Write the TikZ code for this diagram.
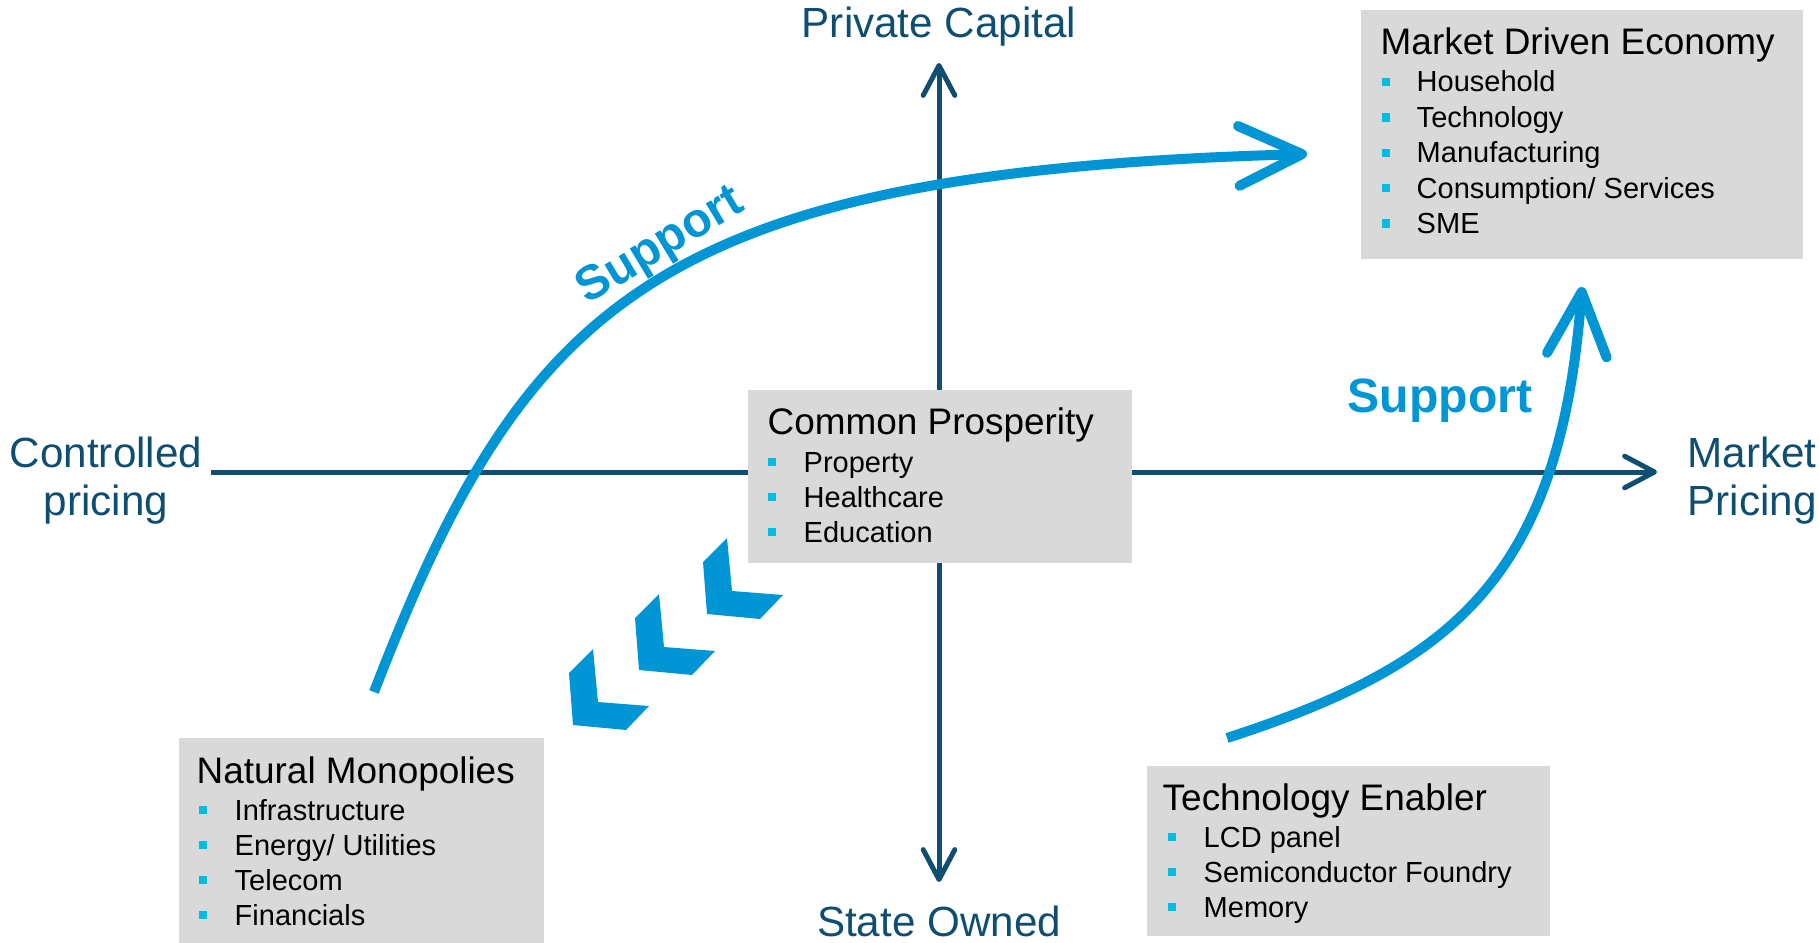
\documentclass[tikz,border=0pt]{standalone}
\usepackage{fontspec}
\setmainfont{Liberation Sans}
\usetikzlibrary{arrows.meta}

\definecolor{axisblue}{RGB}{14,78,112}
\definecolor{arrowblue}{RGB}{0,150,214}
\definecolor{bulcyan}{RGB}{0,190,225}
\definecolor{boxgray}{RGB}{217,217,217}

\tikzset{
  axisline/.style={draw=axisblue, line width=0.05cm},
  axistip/.tip={Straight Barb[round, length=8.5pt, width=9pt]},
  bluecurve/.style={draw=arrowblue, line width=0.1cm,
    -{Straight Barb[round, length=18pt, width=17pt]}},
  axislabel/.style={anchor=base, inner sep=0pt, text=axisblue,
    font=\fontsize{12}{14}\selectfont},
  supportlabel/.style={inner sep=0pt, text=arrowblue,
    font=\fontsize{13.7}{16}\selectfont\bfseries},
  graybox/.style={fill=boxgray, anchor=north west, inner sep=0pt},
  boxtitle/.style={anchor=base west, inner sep=0pt,
    font=\fontsize{10.5}{12}\selectfont},
  item/.style={anchor=base west, inner sep=0pt,
    font=\fontsize{8.25}{10}\selectfont},
  bul/.style={fill=bulcyan, minimum size=0.085cm, inner sep=0pt},
}

\begin{document}
\begin{tikzpicture}[x=0.01cm, y=-0.01cm]
\useasboundingbox (0,0) rectangle (1819,943);

% axes
\coordinate (xl) at (211,472);
\coordinate (xr) at (1657,472);
\coordinate (yt) at (939,63);
\coordinate (yb) at (939,882);
\draw[axisline, -axistip] (xl) -- (xr);
\draw[axisline, axistip-axistip] (yt) -- (yb);

% axis labels
\node[axislabel] (privcap) at (939,38) {Private Capital};
\node[axislabel] (stateown) at (939,936) {State Owned};
\node[axislabel] (ctrl1) at (106,467) {Controlled};
\node[axislabel] (ctrl2) at (106,515) {pricing};
\node[axislabel] (mkt1) at (1752,467) {Market};
\node[axislabel] (mkt2) at (1752,515) {Pricing};

% Market Driven Economy
\node[graybox, minimum width=4.42cm, minimum height=2.49cm] (mde) at (1360,9) {};
\node[boxtitle] (mde-t) at (1380,55) {Market Driven Economy};
\foreach \t [count=\i from 0] in {Household, Technology, Manufacturing, Consumption/ Services, SME} {
  \node[bul] (mde-b\i) at (1386,{82+35.4*\i}) {};
  \node[item] (mde-\i) at (1416,{92+35.4*\i}) {\t};
}

% Common Prosperity
\node[graybox, minimum width=3.84cm, minimum height=1.73cm] (cp) at (747,389) {};
\node[boxtitle] (cp-t) at (767,434) {Common Prosperity};
\foreach \t [count=\i from 0] in {Property, Healthcare, Education} {
  \node[bul] (cp-b\i) at (772,{462+35*\i}) {};
  \node[item] (cp-\i) at (803,{472+35*\i}) {\t};
}

% Natural Monopolies
\node[graybox, minimum width=3.65cm, minimum height=2.07cm] (nm) at (178,737) {};
\node[boxtitle] (nm-t) at (196,783) {Natural Monopolies};
\foreach \t [count=\i from 0] in {Infrastructure, Energy/ Utilities, Telecom, Financials} {
  \node[bul] (nm-b\i) at (203,{810+35*\i}) {};
  \node[item] (nm-\i) at (234,{820+35*\i}) {\t};
}

% Technology Enabler
\node[graybox, minimum width=4.03cm, minimum height=1.70cm] (te) at (1146,765) {};
\node[boxtitle] (te-t) at (1162,810) {Technology Enabler};
\foreach \t [count=\i from 0] in {LCD panel, Semiconductor Foundry, Memory} {
  \node[bul] (te-b\i) at (1172,{837+35*\i}) {};
  \node[item] (te-\i) at (1203,{847+35*\i}) {\t};
}

% support arrows
\coordinate (s1a) at (374,692);
\coordinate (s1b) at (1307,154);
\draw[bluecurve] (s1a) .. controls (525,301) and (657,172) .. (s1b);
\coordinate (s2a) at (1227,738);
\coordinate (s2b) at (1582,287);
\draw[bluecurve] (s2a) .. controls (1455,664) and (1560,576) .. (s2b);

\node[supportlabel, rotate=31] (sup1) at (661,247) {Support};
\node[supportlabel, anchor=base] (sup2) at (1440,412) {Support};

% chevrons pointing towards Natural Monopolies
\foreach \dx/\dy in {0/0, -68/56, -134/111}
  \fill[arrowblue, shift={(\dx,\dy)}]
    (703,562) -- (727,538) -- (732,591) -- (783,595) -- (760,619) -- (707,614) -- cycle;

\end{tikzpicture}
\end{document}
